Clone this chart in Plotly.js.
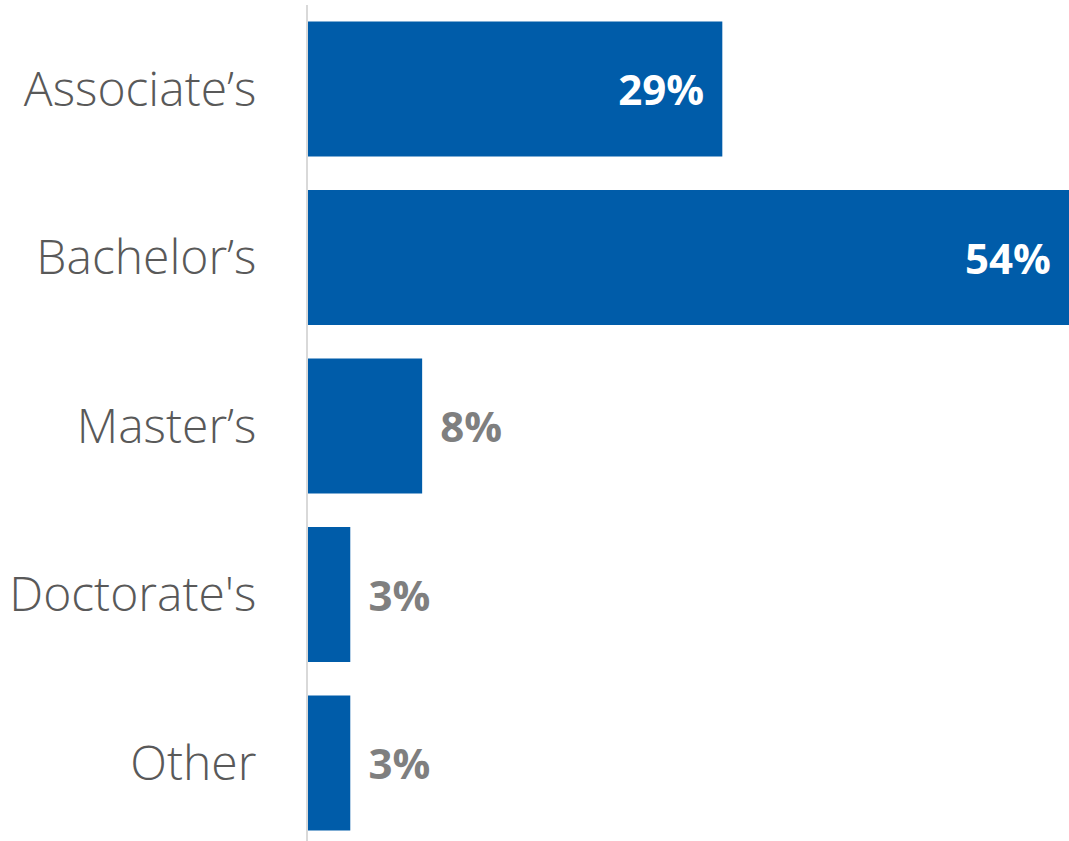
<!DOCTYPE html>
<html><head><meta charset="utf-8">
<script src="https://cdn.plot.ly/plotly-3.0.1.min.js"></script>
<style>html,body{margin:0;padding:0;background:#fff}#chart{width:1069px;height:841px}</style>
</head><body><div id="chart"></div>
<script>
const categories = ["Associate\u2019s", "Bachelor\u2019s", "Master\u2019s", "Doctorate's", "Other"];
const values = [29.4, 54, 8.1, 3, 3];
const positions = ["inside", "inside", "outside", "outside", "outside"];

const texts = values.map((v, i) => positions[i] === "inside"
  ? Math.round(v) + "%\u00a0\u200a"
  : "\u00a0\u200a" + Math.round(v) + "%");

const trace = {
  type: "bar",
  orientation: "h",
  y: categories,
  x: values,
  text: texts,
  textposition: positions,
  insidetextanchor: "end",
  textangle: 0,
  constraintext: "none",
  cliponaxis: false,
  marker: {color: "#005ca9"},
  insidetextfont: {family: "Open Sans", size: 42, color: "#ffffff", weight: 700},
  outsidetextfont: {family: "Open Sans", size: 42, color: "#7f7f7f", weight: 700},
  hoverinfo: "none",
  width: 0.8
};

const layout = {
  width: 1069, height: 841,
  margin: {l: 308, r: 0, t: 5, b: 0, pad: 0},
  paper_bgcolor: "#ffffff", plot_bgcolor: "#ffffff",
  showlegend: false,
  bargap: 0.2,
  xaxis: {range: [0, 54], showgrid: false, zeroline: false, showticklabels: false, showline: false, fixedrange: true},
  yaxis: {
    type: "category",
    range: [4.463, -0.4985],
    showgrid: false, zeroline: false,
    showline: true, linecolor: "#d9d9d9", linewidth: 2,
    ticks: "", ticklabelstandoff: 40,
    tickfont: {family: "Open Sans", size: 48, color: "#595959", weight: 300}
  }
};

Plotly.newPlot("chart", [trace], layout, {displayModeBar: false, staticPlot: true});
</script></body></html>
